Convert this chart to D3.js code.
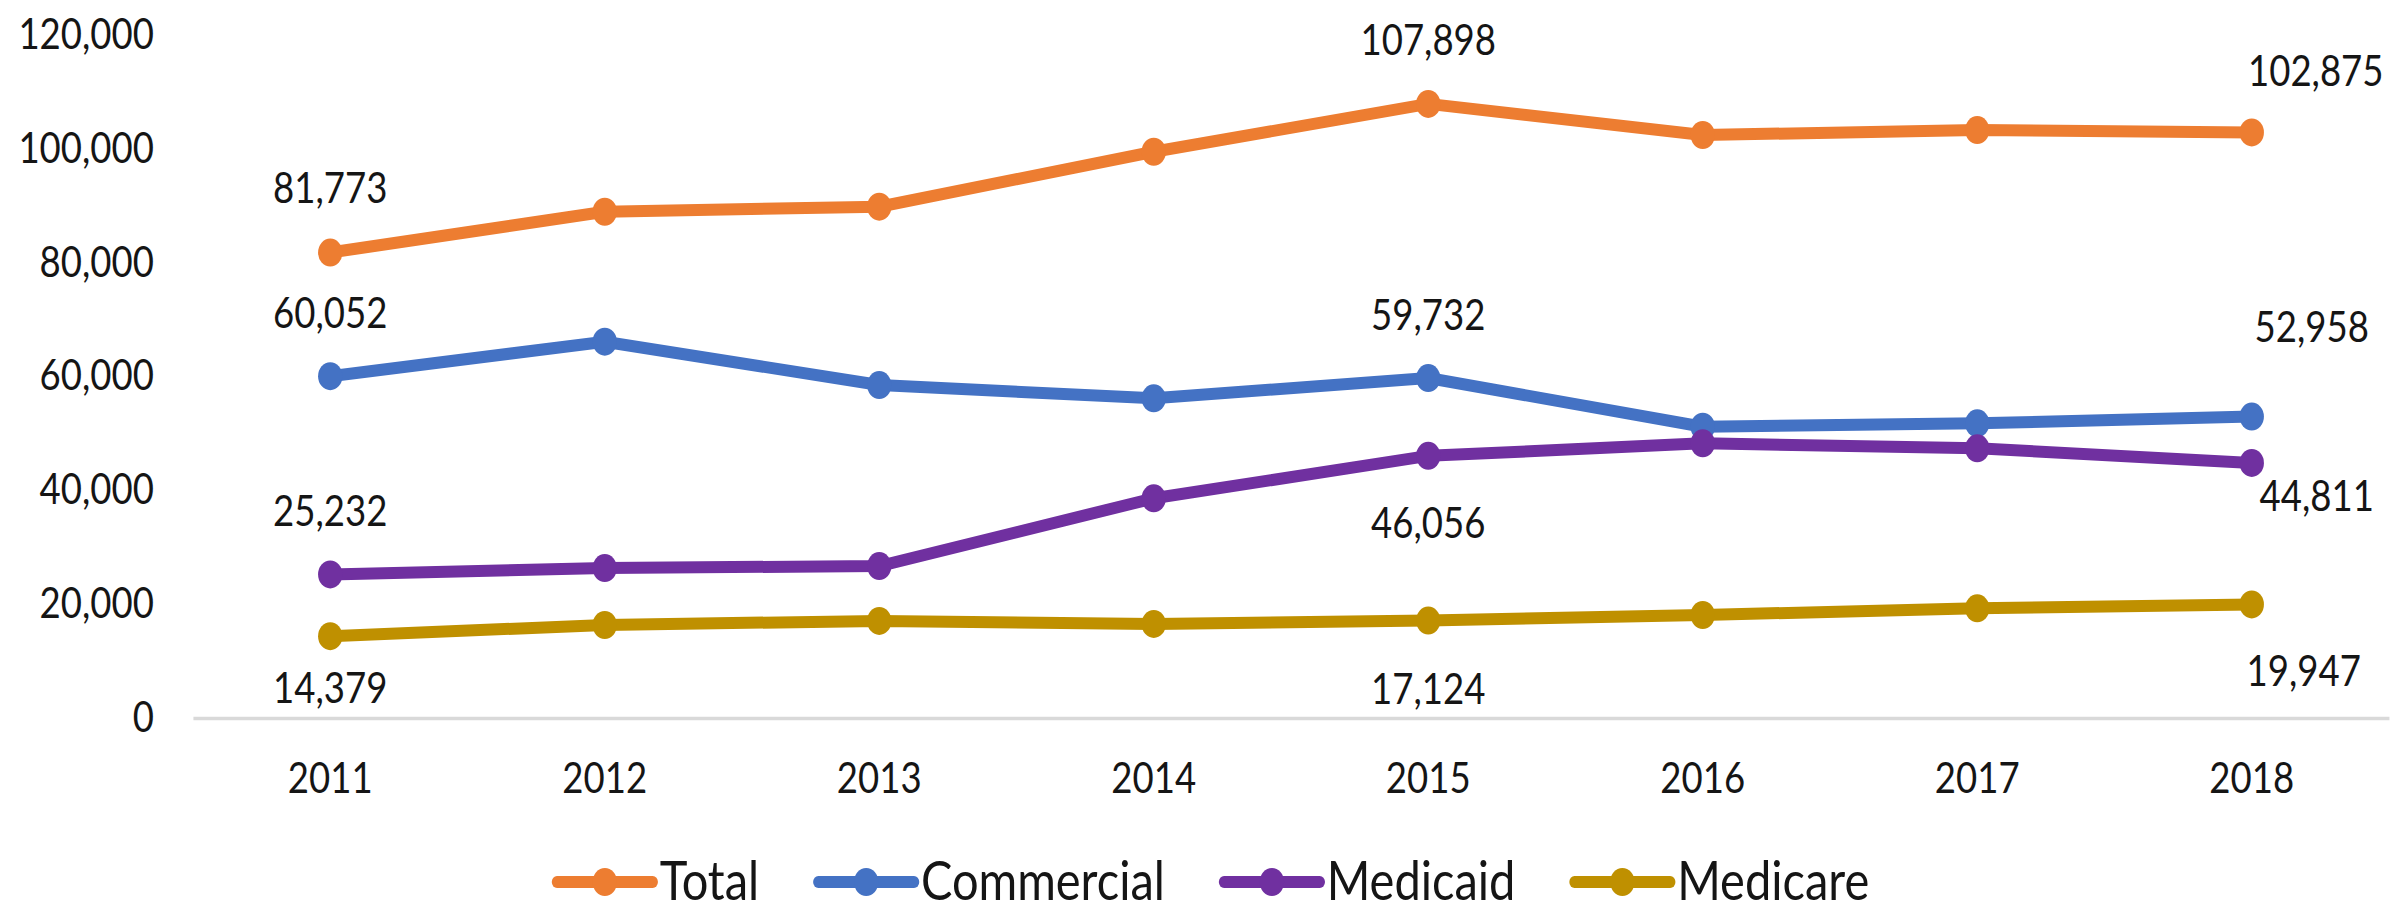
<!DOCTYPE html>
<html>
<head>
<meta charset="utf-8">
<script src="https://cdn.jsdelivr.net/npm/d3@7"></script>
<style>
    body { margin: 0; background: #fff; }
    text { font-family: Lato, "Noto Sans", sans-serif; fill: #151515; }
</style>
</head>
<body>
<svg id="chart"></svg>
<script>
// data
const years = ['2011', '2012', '2013', '2014', '2015', '2016', '2017', '2018']
const total = [81773, 88950, 89830, 99490, 107898, 102430, 103300, 102875]
const commercial = [60052, 66110, 58500, 56170, 59732, 51180, 51770, 52958]
const medicaid = [25232, 26350, 26700, 38600, 46056, 48260, 47380, 44811]
const medicare = [14379, 16340, 17060, 16530, 17124, 18100, 19270, 19947]
const seriesNames = ['Total', 'Commercial', 'Medicaid', 'Medicare']
const yTicks = [0, 20000, 40000, 60000, 80000, 100000, 120000]

const seriesValues = [total, commercial, medicaid, medicare]
const colors = ['#ED7D31', '#4472C4', '#7030A0', '#BF9000']

// which points carry a value label, and where it sits (offset from the marker, px)
const labelSpots = [
    { s: 0, i: 0, dx: 0, dy: -65 }, { s: 0, i: 4, dx: 0, dy: -64 }, { s: 0, i: 7, dx: 64, dy: -62 },
    { s: 1, i: 0, dx: 0, dy: -63 }, { s: 1, i: 4, dx: 0, dy: -63 }, { s: 1, i: 7, dx: 60, dy: -90 },
    { s: 2, i: 0, dx: 0, dy: -64 }, { s: 2, i: 4, dx: 0, dy: 67 }, { s: 2, i: 7, dx: 65, dy: 33 },
    { s: 3, i: 0, dx: 0, dy: 52 }, { s: 3, i: 4, dx: 0, dy: 68 }, { s: 3, i: 7, dx: 52, dy: 66 }
]

// the original is squeezed sideways a little, so draw wider and squash
const W = 2392, H = 913, SX = 0.87
const LW = W / SX

const svg = d3.select('#chart')
    .attr('width', W)
    .attr('height', H)
    .attr('viewBox', `0 0 ${LW} ${H}`)
    .attr('preserveAspectRatio', 'none')

const x0 = 193 / SX, x1 = 2389 / SX
const xScale = d3.scaleBand().domain(years).range([x0, x1])
const yScale = d3.scaleLinear().domain([0, 120000]).range([718, 35])
const cx = (i) => xScale(years[i]) + xScale.bandwidth() / 2

// y axis, labels only
const gy = svg.append('g')
    .attr('transform', `translate(${x0},0)`)
    .call(d3.axisLeft(yScale).tickValues(yTicks).tickFormat(d3.format(',')).tickSize(0).tickPadding(45))
gy.select('.domain').remove()
gy.selectAll('text').style('font-size', '42px').attr('fill', '#151515')

// x axis with the light base line
const gx = svg.append('g')
    .attr('transform', `translate(0,${yScale(0)})`)
    .call(d3.axisBottom(xScale).tickSize(0).tickSizeOuter(0).tickPadding(45))
gx.select('.domain').attr('stroke', '#d9d9d9').attr('stroke-width', 3.5)
gx.selectAll('text').style('font-size', '42px').attr('fill', '#151515')

const line = d3.line()
    .x((d, i) => cx(i))
    .y((d) => yScale(d))

seriesValues.forEach((vals, s) => {
    let g = svg.append('g').attr('class', 'series')
    g.append('path')
        .datum(vals)
        .attr('d', line)
        .attr('fill', 'none')
        .attr('stroke', colors[s])
        .attr('stroke-width', 12)
        .attr('stroke-linejoin', 'round')
    g.selectAll('circle')
        .data(vals)
        .enter()
        .append('circle')
        .attr('cx', (d, i) => cx(i))
        .attr('cy', (d) => yScale(d))
        .attr('r', 14)
        .attr('fill', colors[s])
})

// value labels
svg.append('g')
    .selectAll('text')
    .data(labelSpots)
    .enter()
    .append('text')
    .attr('x', (d) => cx(d.i) + d.dx / SX)
    .attr('y', (d) => yScale(seriesValues[d.s][d.i]) + d.dy)
    .attr('dy', '0.36em')
    .attr('text-anchor', 'middle')
    .style('font-size', '42px')
    .text((d) => d3.format(',')(seriesValues[d.s][d.i]))

// legend, flowed from the left using measured text widths
let lx = 557 / SX
const ly = 882
seriesNames.forEach((name, s) => {
    let g = svg.append('g')
    g.append('line')
        .attr('x1', lx).attr('x2', lx + 110)
        .attr('y1', ly).attr('y2', ly)
        .attr('stroke', colors[s])
        .attr('stroke-width', 12)
        .attr('stroke-linecap', 'round')
    g.append('circle')
        .attr('cx', lx + 55).attr('cy', ly)
        .attr('r', 14)
        .attr('fill', colors[s])
    let t = g.append('text')
        .attr('x', lx + 118)
        .attr('y', ly)
        .attr('dy', '0.34em')
        .style('font-size', '54px')
        .text(name)
    lx += 118 + t.node().getComputedTextLength() + 68
})
</script>
</body>
</html>
